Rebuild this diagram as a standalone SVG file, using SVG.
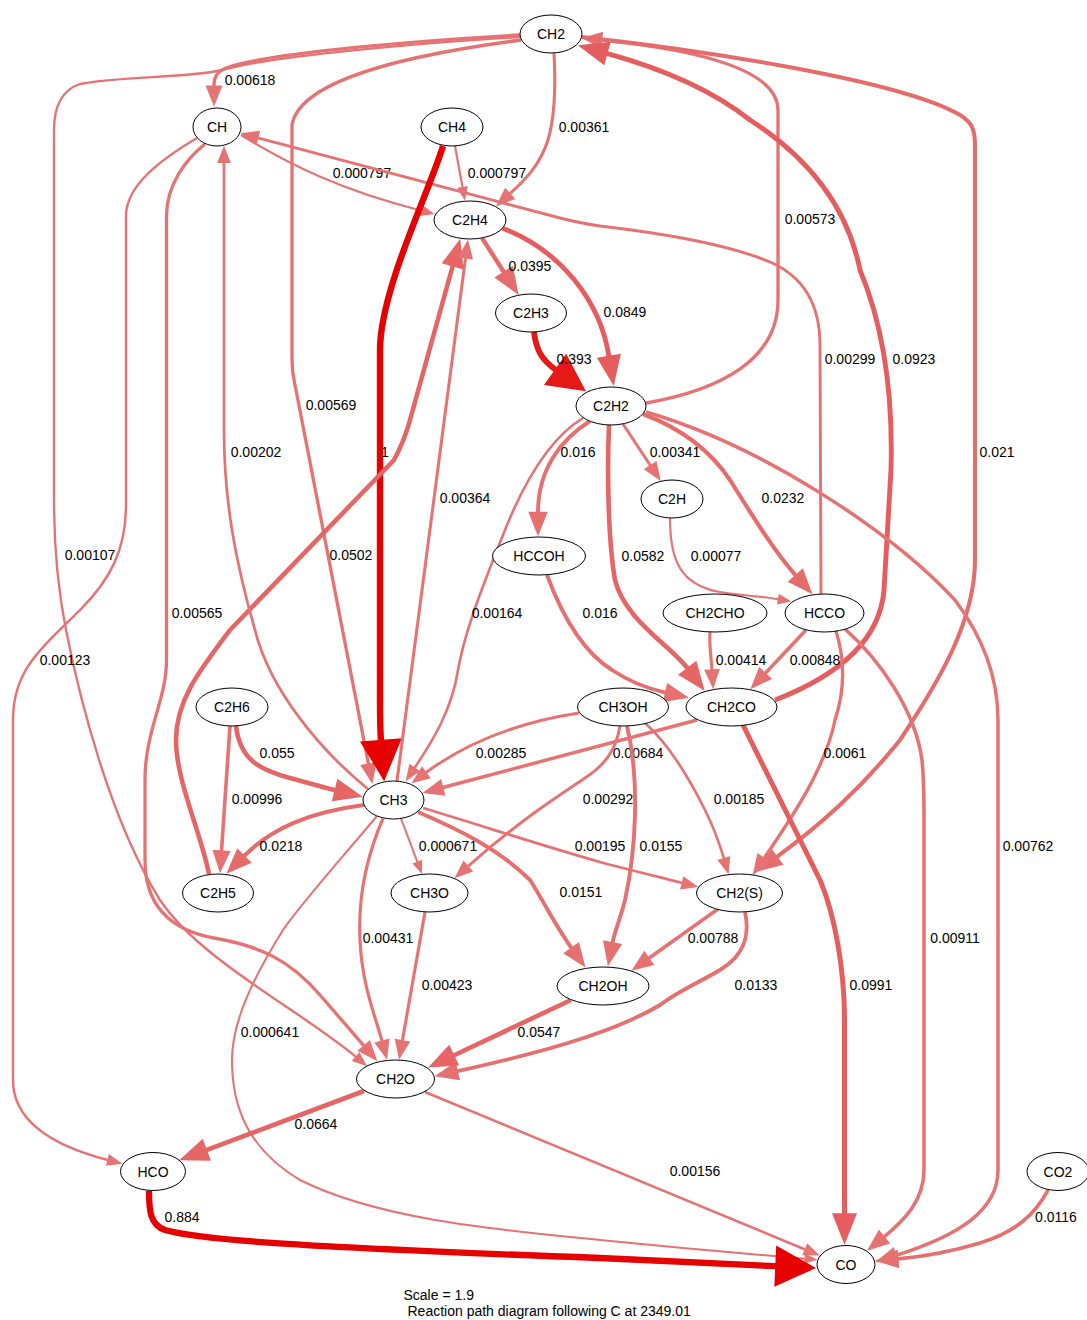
<svg xmlns="http://www.w3.org/2000/svg" width="1087" height="1320" viewBox="0 0 1087 1320">
<style>
text{font-family:"Liberation Sans",Arial,Helvetica,sans-serif;font-size:14px;fill:#000;text-anchor:middle}
.n ellipse{fill:#fff;stroke:#000;stroke-width:1}
path.e{fill:none;stroke-linecap:butt;stroke-linejoin:round}
.c0{stroke:#e60000;marker-end:url(#m0)}
.c1{stroke:#e61919;marker-end:url(#m1)}
.c2{stroke:#e65d5d;marker-end:url(#m2)}
.c3{stroke:#e66565;marker-end:url(#m3)}
.c4{stroke:#e66b6b;marker-end:url(#m4)}
.c5{stroke:#e66f6f;marker-end:url(#m5)}
.c6{stroke:#e67373;marker-end:url(#m6)}
</style>
<defs>
<marker id="m0" viewBox="0 0 6.5 6.6" refX="0.15" refY="3.3" markerWidth="6.5" markerHeight="6.6" markerUnits="strokeWidth" orient="auto" overflow="visible"><path d="M0,0L6.5,3.3L0,6.6z" fill="#e60000"/></marker>
<marker id="m1" viewBox="0 0 6.5 6.6" refX="0.15" refY="3.3" markerWidth="6.5" markerHeight="6.6" markerUnits="strokeWidth" orient="auto" overflow="visible"><path d="M0,0L6.5,3.3L0,6.6z" fill="#e61919"/></marker>
<marker id="m2" viewBox="0 0 6.3 5" refX="0.15" refY="2.5" markerWidth="6.3" markerHeight="5" markerUnits="strokeWidth" orient="auto" overflow="visible"><path d="M0,0L6.3,2.5L0,5z" fill="#e65d5d"/></marker>
<marker id="m3" viewBox="0 0 6.3 5" refX="0.15" refY="2.5" markerWidth="6.3" markerHeight="5" markerUnits="strokeWidth" orient="auto" overflow="visible"><path d="M0,0L6.3,2.5L0,5z" fill="#e66565"/></marker>
<marker id="m4" viewBox="0 0 6.3 5" refX="0.15" refY="2.5" markerWidth="6.3" markerHeight="5" markerUnits="strokeWidth" orient="auto" overflow="visible"><path d="M0,0L6.3,2.5L0,5z" fill="#e66b6b"/></marker>
<marker id="m5" viewBox="0 0 6.3 5" refX="0.15" refY="2.5" markerWidth="6.3" markerHeight="5" markerUnits="strokeWidth" orient="auto" overflow="visible"><path d="M0,0L6.3,2.5L0,5z" fill="#e66f6f"/></marker>
<marker id="m6" viewBox="0 0 6.3 5" refX="0.15" refY="2.5" markerWidth="6.3" markerHeight="5" markerUnits="strokeWidth" orient="auto" overflow="visible"><path d="M0,0L6.3,2.5L0,5z" fill="#e67373"/></marker>
</defs>
<rect width="1087" height="1320" fill="#fff"/>
<g id="edges">
<g id="e-CH2-CH"><path class="e c6" style="stroke-width:3.37" d="M520,35 C430,40 270,52 226,68 C216,72 214,78 214,86"/><text x="250" y="85">0.00618</text></g>
<g id="e-CH2-CH3"><path class="e c6" style="stroke-width:3.33" d="M521,40 C430,52 300,75 292,125 L292,360 C292,375 294,380 296,390 L368.5,764"/><text x="331" y="410">0.00569</text></g>
<g id="e-CH2-C2H4"><path class="e c6" style="stroke-width:3.07" d="M554,53 C556,90 554,120 548,140 C540,165 525,180 509.9,193.7"/><text x="584" y="132">0.00361</text></g>
<g id="e-CH-C2H4"><path class="e c6" style="stroke-width:2.2" d="M241,135 C290,165 340,190 421.5,210.7"/><text x="362" y="178">0.000797</text></g>
<g id="e-CH4-C2H4"><path class="e c6" style="stroke-width:2.2" d="M455,146 L462.5,187.3"/><text x="497" y="178">0.000797</text></g>
<g id="e-HCCO-CH"><path class="e c6" style="stroke-width:2.96" d="M821,594 L820,345 C820,300 800,275 770,262 C730,245 660,233 600,226 C585,224 572,221 560,218 L257.9,137.9"/><text x="850" y="364">0.00299</text></g>
<g id="e-CH4-CH3"><path class="e c0" style="stroke-width:6.36" d="M443,146 C430,190 380,290 380,350 L380,700 C380,720 380,728 381,740.9"/><text x="385" y="457">1</text></g>
<g id="e-C2H5-C2H4"><path class="e c3" style="stroke-width:4.55" d="M209,874 C200,830 176,780 176,740 C176,700 200,670 230,630 L394,460 C402,445 406,435 410,420 L452.8,265.7"/><text x="351" y="560">0.0502</text></g>
<g id="e-CH3-C2H4"><path class="e c6" style="stroke-width:3.07" d="M397,781 L465.5,258.1"/><text x="465" y="503">0.00364</text></g>
<g id="e-CH3-CH"><path class="e c6" style="stroke-width:2.74" d="M368,789 C320,750 270,690 255,630 C235,560 224,500 224,430 L224,162.6"/><text x="256" y="457">0.00202</text></g>
<g id="e-CH-CH2O"><path class="e c6" style="stroke-width:3.32" d="M205,144 C185,160 167,185 166.5,215 L166.5,660 C166.5,700 145,730 145,780 L145,860 C145,905 170,930 214,938 C260,946 290,960 320,995 L364,1045.8"/><text x="197" y="618">0.00565</text></g>
<g id="e-C2H4-C2H3"><path class="e c4" style="stroke-width:4.4" d="M482,238 L504,272.2"/><text x="530" y="271">0.0395</text></g>
<g id="e-C2H4-C2H2"><path class="e c2" style="stroke-width:4.85" d="M502,228 C560,250 600,300 609,356.5"/><text x="625" y="317">0.0849</text></g>
<g id="e-C2H3-C2H2"><path class="e c1" style="stroke-width:5.82" d="M534,332 C536,350 542,360 555.8,369.8"/><text x="574" y="364">0.393</text></g>
<g id="e-C2H2-CH2"><path class="e c6" style="stroke-width:3.33" d="M646,403 C720,390 778,360 778,300 L778,110 C778,70 700,50 601.8,40.1"/><text x="810" y="224">0.00573</text></g>
<g id="e-CH2CO-CH2"><path class="e c2" style="stroke-width:4.9" d="M775,700 C840,675 880,640 884,590 L891,470 C893,400 885,330 860,270 C850,220 820,165 750,120 C710,88 660,68 606.8,53.3"/><text x="914" y="364">0.0923</text></g>
<g id="e-CH2-CH2S"><path class="e c4" style="stroke-width:4.07" d="M582,37 C700,50 900,80 960,115 C972,122 975,130 975,145 L975,560 C975,620 940,680 900,740 C860,790 820,825 776.9,856.8"/><text x="997" y="457">0.021</text></g>
<g id="e-C2H2-HCCOH"><path class="e c5" style="stroke-width:3.9" d="M590,421 C560,440 538,470 538,512.4"/><text x="578" y="457">0.016</text></g>
<g id="e-C2H2-CH3"><path class="e c6" style="stroke-width:2.62" d="M583,418 C550,438 525,480 505,530 C485,580 465,630 458,670 C452,710 432,742 414.6,767.8"/><text x="497" y="618">0.00164</text></g>
<g id="e-C2H2-C2H"><path class="e c6" style="stroke-width:3.04" d="M623,424 L650.4,465.5"/><text x="675" y="457">0.00341</text></g>
<g id="e-C2H2-HCCO"><path class="e c4" style="stroke-width:4.1" d="M643,414 C680,428 710,450 730,480 C755,520 775,552 795.7,575.4"/><text x="783" y="503">0.0232</text></g>
<g id="e-C2H2-CH2CO"><path class="e c3" style="stroke-width:4.6" d="M609,425 C607,470 608,540 615,580 C625,620 670,645 687.6,668.3"/><text x="643" y="561">0.0582</text></g>
<g id="e-C2H2-CO"><path class="e c6" style="stroke-width:3.49" d="M646,412 C760,445 890,530 955,600 C985,640 998,680 998,720 L998,1170 C998,1210 960,1235 895.9,1255.4"/><text x="1028" y="851">0.00762</text></g>
<g id="e-C2H-HCCO"><path class="e c6" style="stroke-width:2.18" d="M670,518 C670,560 680,585 720,592 C745,596 760,596 778.2,599.2"/><text x="716" y="561">0.00077</text></g>
<g id="e-HCCOH-CH2CO"><path class="e c5" style="stroke-width:3.9" d="M547,575 C560,610 580,650 612,670 C630,682 645,688 665.6,692.6"/><text x="600" y="618">0.016</text></g>
<g id="e-CH2CHO-CH2CO"><path class="e c6" style="stroke-width:3.15" d="M710,632 C709,645 711,655 712,669.8"/><text x="741" y="665">0.00414</text></g>
<g id="e-HCCO-CH2CO"><path class="e c6" style="stroke-width:3.55" d="M806,630 L765.3,673.3"/><text x="815" y="665">0.00848</text></g>
<g id="e-HCCO-CH2S"><path class="e c6" style="stroke-width:3.36" d="M836,631 C845,660 845,690 835,720 C825,770 790,820 764.1,858.2"/><text x="845" y="758">0.0061</text></g>
<g id="e-HCCO-CO"><path class="e c6" style="stroke-width:3.59" d="M845,629 C880,660 915,710 922,760 C924,780 924,800 924,820 L924,1170 C924,1200 905,1220 884.1,1236.9"/><text x="955" y="943">0.00911</text></g>
<g id="e-CH2CO-CO"><path class="e c2" style="stroke-width:5" d="M743,725 L820,880 C835,915 844.5,970 844.5,1020 L844.5,1214"/><text x="871" y="990">0.0991</text></g>
<g id="e-CH2CO-CH3"><path class="e c6" style="stroke-width:3.42" d="M697,720 L442.8,787.5"/><text x="638" y="758">0.00684</text></g>
<g id="e-CH3OH-CH3"><path class="e c6" style="stroke-width:2.94" d="M579,713 C520,722 470,740 426,772.5"/><text x="501" y="758">0.00285</text></g>
<g id="e-CH3OH-CH3O"><path class="e c6" style="stroke-width:2.95" d="M620,726 C616,750 605,765 585,778 C560,795 520,820 468,866.3"/><text x="608" y="804">0.00292</text></g>
<g id="e-CH3OH-CH2OH"><path class="e c5" style="stroke-width:3.9" d="M627,726 C640,780 636,850 625,900 C620,920 615,930 612.5,942.7"/><text x="661" y="851">0.0155</text></g>
<g id="e-CH3OH-CH2S"><path class="e c6" style="stroke-width:2.69" d="M645,723 C670,745 690,780 705,810 C713,826 719,842 723.9,858.4"/><text x="739" y="804">0.00185</text></g>
<g id="e-C2H6-CH3"><path class="e c3" style="stroke-width:4.6" d="M236,726 C240,760 260,770 290,778 C305,782 318,786 335.3,790.2"/><text x="277" y="758">0.055</text></g>
<g id="e-C2H6-C2H5"><path class="e c6" style="stroke-width:3.64" d="M230,726 L221.5,851"/><text x="257" y="804">0.00996</text></g>
<g id="e-CH3-C2H5"><path class="e c4" style="stroke-width:4.1" d="M364,805 C310,812 272,828 244.1,856"/><text x="281" y="851">0.0218</text></g>
<g id="e-CH3-CH3O"><path class="e c6" style="stroke-width:2.1" d="M401,818.5 L417.4,862"/><text x="448" y="851">0.000671</text></g>
<g id="e-CH3-CH2S"><path class="e c6" style="stroke-width:2.72" d="M423,808 C480,825 540,845 600,862 C630,870 655,876 682.1,882.9"/><text x="600" y="851">0.00195</text></g>
<g id="e-CH3-CH2OH"><path class="e c5" style="stroke-width:3.9" d="M418,812 C460,830 500,850 530,880 C540,895 555,925 571.5,948.1"/><text x="581" y="897">0.0151</text></g>
<g id="e-CH3-CH2O"><path class="e c6" style="stroke-width:3.17" d="M383,818.5 C365,860 358,900 360,940 C362,985 375,1015 382,1041"/><text x="388" y="943">0.00431</text></g>
<g id="e-CH3O-CH2O"><path class="e c6" style="stroke-width:3.16" d="M425,912 L402.4,1040.5"/><text x="447" y="990">0.00423</text></g>
<g id="e-CH3-CO"><path class="e c6" style="stroke-width:2.07" d="M377,816 C340,860 300,905 283,930 C255,975 232,1020 232,1060 C232,1110 250,1150 300,1180 C380,1220 500,1230 600,1240 C700,1250 760,1255 804.9,1258.7"/><text x="270" y="1037">0.000641</text></g>
<g id="e-CH2S-CH2OH"><path class="e c6" style="stroke-width:3.5" d="M718,909 L648.9,958.2"/><text x="713" y="943">0.00788</text></g>
<g id="e-CH2S-CH2O"><path class="e c5" style="stroke-width:3.8" d="M745,912 C750,935 745,955 720,970 C700,982 680,990 660,1005 C610,1035 530,1055 457.3,1071.2"/><text x="756" y="990">0.0133</text></g>
<g id="e-CH2OH-CH2O"><path class="e c3" style="stroke-width:4.6" d="M571,1000 L453.6,1055.5"/><text x="539" y="1037">0.0547</text></g>
<g id="e-CH2O-HCO"><path class="e c3" style="stroke-width:4.7" d="M364,1091 L206.2,1150.1"/><text x="316" y="1129">0.0664</text></g>
<g id="e-CH2O-CO"><path class="e c6" style="stroke-width:2.59" d="M425,1092 L805.1,1249.5"/><text x="695" y="1176">0.00156</text></g>
<g id="e-HCO-CO"><path class="e c0" style="stroke-width:6.27" d="M149,1191 C149,1210 150,1225 165,1230 C200,1240 300,1247 600,1258 L776.2,1266.2"/><text x="182" y="1222">0.884</text></g>
<g id="e-CO2-CO"><path class="e c5" style="stroke-width:3.73" d="M1048,1190 C1035,1215 1015,1232 980,1243 C950,1252 920,1257 897.9,1258.9"/><text x="1056" y="1222">0.0116</text></g>
<g id="e-CH2-CH2O"><path class="e c6" style="stroke-width:2.37" d="M520,37 C430,42 270,56 222,70 C190,78 120,76 80,84 C62,90 54,105 54,130 L54,500 C54,540 58,590 66,630 C80,700 110,820 160,900 C200,960 300,1010 355.9,1056.8"/><text x="90" y="560">0.00107</text></g>
<g id="e-CH-HCO"><path class="e c6" style="stroke-width:2.45" d="M197,138 C160,160 127,185 126,215 L126,505 C126,550 110,580 80,610 C40,650 13,670 13,720 L13,1080 C13,1120 50,1145 107.8,1160"/><text x="65" y="665">0.00123</text></g>
</g>
<g id="n-CH2" class="n"><ellipse cx="551" cy="34" rx="31" ry="19"/><text x="551" y="39">CH2</text></g>
<g id="n-CH" class="n"><ellipse cx="217" cy="127" rx="24" ry="19"/><text x="217" y="132">CH</text></g>
<g id="n-CH4" class="n"><ellipse cx="452" cy="127" rx="31" ry="19"/><text x="452" y="132">CH4</text></g>
<g id="n-C2H4" class="n"><ellipse cx="470" cy="220" rx="36" ry="19"/><text x="470" y="225">C2H4</text></g>
<g id="n-C2H3" class="n"><ellipse cx="531" cy="313" rx="35.5" ry="19"/><text x="531" y="318">C2H3</text></g>
<g id="n-C2H2" class="n"><ellipse cx="611" cy="406" rx="35" ry="19"/><text x="611" y="411">C2H2</text></g>
<g id="n-C2H" class="n"><ellipse cx="672" cy="499" rx="31" ry="19"/><text x="672" y="504">C2H</text></g>
<g id="n-HCCOH" class="n"><ellipse cx="539" cy="556" rx="46.5" ry="19"/><text x="539" y="561">HCCOH</text></g>
<g id="n-CH2CHO" class="n"><ellipse cx="715" cy="613" rx="52" ry="19"/><text x="715" y="618">CH2CHO</text></g>
<g id="n-HCCO" class="n"><ellipse cx="824.5" cy="613" rx="39.5" ry="19"/><text x="824.5" y="618">HCCO</text></g>
<g id="n-C2H6" class="n"><ellipse cx="232" cy="707" rx="36" ry="19"/><text x="232" y="712">C2H6</text></g>
<g id="n-CH3OH" class="n"><ellipse cx="623" cy="707" rx="45.5" ry="19"/><text x="623" y="712">CH3OH</text></g>
<g id="n-CH2CO" class="n"><ellipse cx="731.5" cy="707" rx="45.5" ry="19"/><text x="731.5" y="712">CH2CO</text></g>
<g id="n-CH3" class="n"><ellipse cx="393.5" cy="800" rx="30.5" ry="19"/><text x="393.5" y="805">CH3</text></g>
<g id="n-C2H5" class="n"><ellipse cx="218" cy="893" rx="35.5" ry="19"/><text x="218" y="898">C2H5</text></g>
<g id="n-CH3O" class="n"><ellipse cx="429.5" cy="893" rx="38.5" ry="19"/><text x="429.5" y="898">CH3O</text></g>
<g id="n-CH2S" class="n"><ellipse cx="739.5" cy="893" rx="43" ry="19"/><text x="739.5" y="898">CH2(S)</text></g>
<g id="n-CH2OH" class="n"><ellipse cx="603" cy="986" rx="46" ry="19"/><text x="603" y="991">CH2OH</text></g>
<g id="n-CH2O" class="n"><ellipse cx="395.5" cy="1079" rx="39" ry="19"/><text x="395.5" y="1084">CH2O</text></g>
<g id="n-HCO" class="n"><ellipse cx="153" cy="1171.5" rx="32.5" ry="19"/><text x="153" y="1176.5">HCO</text></g>
<g id="n-CO2" class="n"><ellipse cx="1058" cy="1171.5" rx="31" ry="19"/><text x="1058" y="1176.5">CO2</text></g>
<g id="n-CO" class="n"><ellipse cx="846" cy="1264.5" rx="29" ry="19"/><text x="846" y="1269.5">CO</text></g>
<g id="title"><text x="403.5" y="1300" style="text-anchor:start">Scale = 1.9</text><text x="407.5" y="1316" style="text-anchor:start">Reaction path diagram following C at 2349.01</text></g>
</svg>
